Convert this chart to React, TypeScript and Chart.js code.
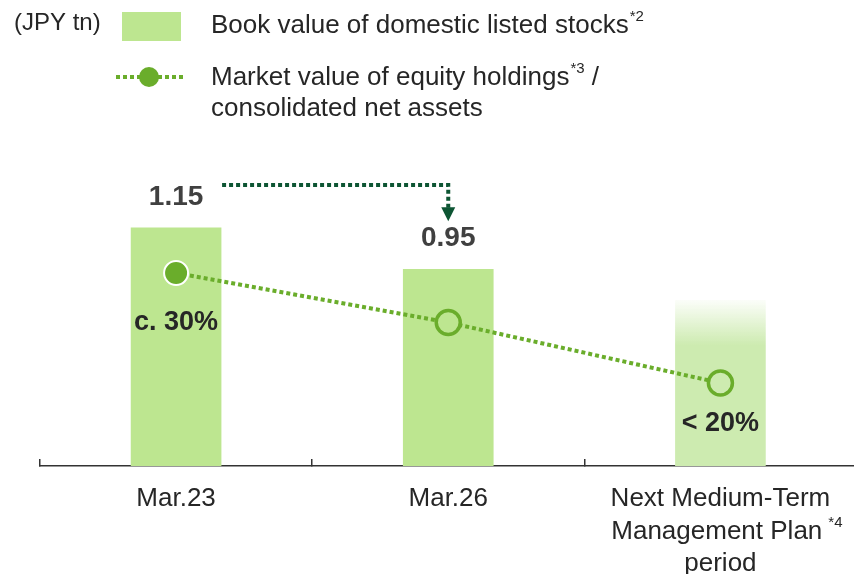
import React, { useEffect, useRef } from "react";
import { Chart, registerables } from "chart.js";
Chart.register(...registerables);

const categories: string[][] = [["Mar.23"], ["Mar.26"], ["Next Medium-Term", "Management Plan ", "period"]];
const bookValues = [1.15, 0.95, 0.8];
const bookLabels = ["1.15", "0.95", ""];
const ratioValues = [30, 25.5, 20];
const ratioLabels = ["c. 30%", "", "< 20%"];

const BAR = "#BDE690";
const BAR_FADE = "#CDEBB0";
const LINE = "#6AAD2B";
const DARK = "#0D5533";
const TEXT = "#262626";
const FONT = "'Liberation Sans', Arial, sans-serif";

const overlay = {
  id: "overlay",
  afterDatasetsDraw(chart: any) {
    const ctx = chart.ctx as CanvasRenderingContext2D;
    ctx.save();
    ctx.textBaseline = "middle";
    // legend
    ctx.fillStyle = TEXT;
    ctx.font = `24px ${FONT}`;
    ctx.textAlign = "left";
    ctx.fillText("(JPY tn)", 14, 23);
    ctx.fillStyle = BAR;
    ctx.fillRect(122, 12, 59, 29);
    ctx.fillStyle = TEXT;
    ctx.font = `26px ${FONT}`;
    const t1 = "Book value of domestic listed stocks";
    ctx.fillText(t1, 211, 26);
    let w = ctx.measureText(t1).width;
    ctx.font = `15px ${FONT}`;
    ctx.fillText("*2", 211 + w + 1, 17);
    // line legend
    ctx.strokeStyle = LINE;
    ctx.lineWidth = 4;
    ctx.setLineDash([4, 3]);
    ctx.beginPath();
    ctx.moveTo(116, 77);
    ctx.lineTo(184, 77);
    ctx.stroke();
    ctx.setLineDash([]);
    ctx.fillStyle = LINE;
    ctx.beginPath();
    ctx.arc(149, 77, 10, 0, Math.PI * 2);
    ctx.fill();
    ctx.fillStyle = TEXT;
    ctx.font = `26px ${FONT}`;
    const t2 = "Market value of equity holdings";
    ctx.fillText(t2, 211, 78);
    w = ctx.measureText(t2).width;
    ctx.font = `15px ${FONT}`;
    ctx.fillText("*3", 211 + w + 1, 69);
    const w3 = ctx.measureText("*3").width;
    ctx.font = `26px ${FONT}`;
    ctx.fillText(" /", 211 + w + 1 + w3, 78);
    ctx.fillText("consolidated net assets", 211, 109);

    // bar value labels
    const barMeta = chart.getDatasetMeta(0);
    ctx.textAlign = "center";
    ctx.fillStyle = "#404040";
    ctx.font = `bold 28px ${FONT}`;
    barMeta.data.forEach((el: any, i: number) => {
      if (bookLabels[i]) ctx.fillText(bookLabels[i], el.x, el.y - 31);
    });

    // ratio labels
    const lineMeta = chart.getDatasetMeta(1);
    ctx.fillStyle = TEXT;
    ctx.font = `bold 27px ${FONT}`;
    const offs = [50, 0, 41];
    lineMeta.data.forEach((el: any, i: number) => {
      if (ratioLabels[i]) ctx.fillText(ratioLabels[i], el.x, el.y + offs[i]);
    });

    // arrow
    const b1 = barMeta.data[0];
    const b2 = barMeta.data[1];
    const ay = b1.y - 43;
    const sx = b1.x + b1.width / 2 + 1;
    const tipY = b2.y - 48;
    ctx.strokeStyle = DARK;
    ctx.lineWidth = 4;
    ctx.setLineDash([4, 3]);
    ctx.beginPath();
    ctx.moveTo(sx, ay);
    ctx.lineTo(b2.x, ay);
    ctx.lineTo(b2.x, tipY - 13);
    ctx.stroke();
    ctx.setLineDash([]);
    ctx.fillStyle = DARK;
    ctx.beginPath();
    ctx.moveTo(b2.x - 7, tipY - 14);
    ctx.lineTo(b2.x + 7, tipY - 14);
    ctx.lineTo(b2.x, tipY);
    ctx.closePath();
    ctx.fill();

    // superscript *4 on x label
    const xs = chart.scales.x;
    const cx = xs.getPixelForValue(2);
    ctx.font = `26px ${FONT}`;
    const mw = ctx.measureText("Management Plan").width;
    const full = ctx.measureText("Management Plan ").width;
    const left = cx - full / 2;
    ctx.textAlign = "left";
    ctx.fillStyle = TEXT;
    ctx.font = `15px ${FONT}`;
    ctx.fillText("*4", left + mw + 6, 523);
    ctx.restore();
  },
};

export default function App() {
  const ref = useRef<HTMLCanvasElement>(null);
  useEffect(() => {
    document.body.style.margin = "0";
    const chart = new Chart(ref.current!, {
      type: "bar",
      data: {
        labels: categories as any,
        datasets: [
          {
            type: "bar",
            data: bookValues,
            order: 2,
            barThickness: 90,
            backgroundColor: (c: any) => {
              if (c.dataIndex !== 2) return BAR;
              const ch = c.chart;
              if (!ch.chartArea || !ch.scales.y) return BAR_FADE;
              const top = ch.scales.y.getPixelForValue(bookValues[2]);
              const g = ch.ctx.createLinearGradient(0, top, 0, top + 45);
              g.addColorStop(0, "rgba(205,235,176,0.08)");
              g.addColorStop(1, BAR_FADE);
              return g;
            },
            borderWidth: 0,
          },
          {
            type: "line",
            data: ratioValues,
            yAxisID: "y2",
            order: 1,
            borderColor: LINE,
            borderWidth: 4,
            borderDash: [4, 3],
            fill: false,
            tension: 0,
            pointRadius: 12,
            pointBackgroundColor: [LINE, BAR, BAR_FADE],
            pointBorderColor: ["#ffffff", LINE, LINE],
            pointBorderWidth: [2, 3.5, 3.5],
          } as any,
        ],
      },
      options: {
        animation: false,
        responsive: false,
        layout: { padding: { left: 40, right: 13, top: 52, bottom: 0 } },
        plugins: { legend: { display: false }, tooltip: { enabled: false } },
        scales: {
          x: {
            offset: true,
            afterFit: (s: any) => {
              s.height = 108;
            },
            grid: {
              offset: true,
              drawOnChartArea: false,
              tickLength: -7,
              color: "#333",
              lineWidth: 1.5,
            },
            border: { color: "#333", width: 1.5 },
            ticks: {
              color: TEXT,
              padding: 24,
              maxRotation: 0,
              autoSkip: false,
              font: { family: FONT, size: 26, lineHeight: 1.25 },
            },
          },
          y: { display: false, min: 0, max: 2 },
          y2: { display: false, min: 12.45, max: 50.09 },
        },
      },
      plugins: [overlay],
    });
    return () => chart.destroy();
  }, []);
  return (
    <div style={{ position: "fixed", left: 0, top: 0, width: 854, height: 574, overflow: "hidden", background: "#fff" }}>
      <canvas ref={ref} width={872} height={574} style={{ display: "block" }} />
    </div>
  );
}
